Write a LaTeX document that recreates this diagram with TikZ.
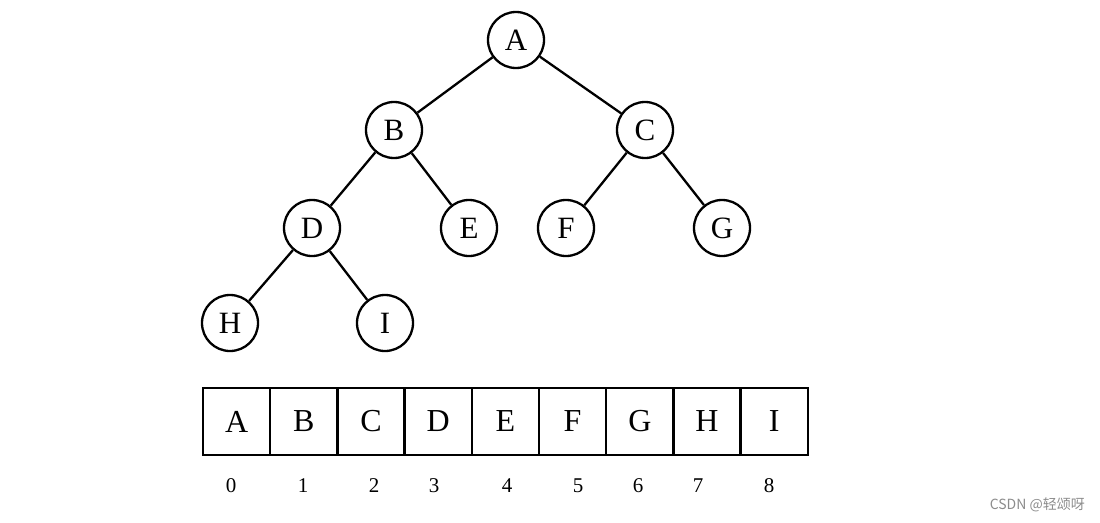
\documentclass[tikz,border=0pt]{standalone}
\usepackage{fontspec}
\setmainfont{Liberation Serif}
\newfontfamily\cjk{Noto Sans CJK SC}
\begin{document}
\begin{tikzpicture}[x=1pt,y=-1pt,
  tnode/.style={circle,draw,line width=2.3pt,minimum size=56pt,inner sep=0pt,font=\fontsize{31}{31}\selectfont},
  edge/.style={line width=2.3pt},
  cell/.style={rectangle,draw,line width=2.5pt,minimum width=67.2pt,minimum height=67pt,inner sep=0pt,font=\fontsize{32}{32}\selectfont},
  idx/.style={inner sep=0pt,font=\fontsize{21}{21}\selectfont}]
\useasboundingbox (0,0) rectangle (1100,522);
\node[tnode] (A) at (516,40) {A};
\node[tnode] (B) at (394,130) {B};
\node[tnode] (C) at (645,130) {C};
\node[tnode] (D) at (312,228) {D};
\node[tnode] (E) at (469,228) {E};
\node[tnode] (F) at (566,228) {F};
\node[tnode] (G) at (722,228) {G};
\node[tnode] (H) at (230,323) {H};
\node[tnode] (I) at (385,323) {I};
\draw[edge] (A) -- (B);
\draw[edge] (A) -- (C);
\draw[edge] (B) -- (D);
\draw[edge] (B) -- (E);
\draw[edge] (C) -- (F);
\draw[edge] (C) -- (G);
\draw[edge] (D) -- (H);
\draw[edge] (D) -- (I);
\foreach \l [count=\i from 0] in {A,B,C,D,E,F,G,H,I} {
  \node[cell] (c\i) at ({203+67.2*(\i+0.5)},421.5) {\l};
}
\foreach \n/\x in {0/231,1/303,2/374,3/434,4/507,5/578,6/638,7/698,8/769} {
  \node[idx] (i\n) at (\x,486) {\n};
}
\node[anchor=east,inner sep=0pt,text=black!45,font=\cjk\fontsize{14}{14}\selectfont] (wm) at (1085,505) {CSDN @轻颂呀};
\end{tikzpicture}
\end{document}
